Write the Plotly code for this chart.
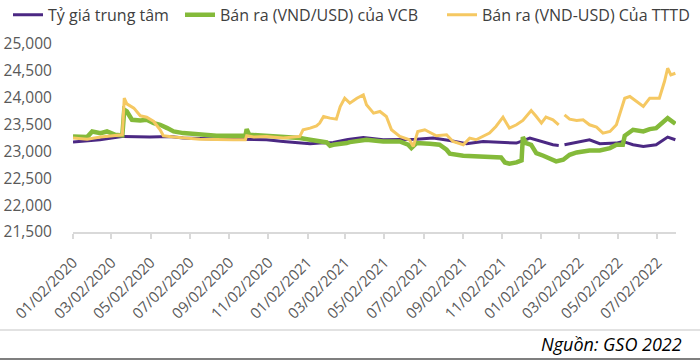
import plotly.graph_objects as go

# ---------------- data ----------------
central_dates = ["2020-01-02", "2020-02-13", "2020-03-21", "2020-05-01", "2020-06-01", "2020-06-22",
                 "2020-08-13", "2020-10-04", "2020-10-30", "2020-11-25", "2020-12-21", "2021-01-06",
                 "2021-01-21", "2021-02-11", "2021-03-04", "2021-03-09", "2021-03-30", "2021-04-30",
                 "2021-06-21", "2021-07-17", "2021-08-12", "2021-09-07", "2021-10-03", "2021-10-29",
                 "2021-11-24", "2021-12-15", "2022-01-04", "2022-01-20", "2022-01-29", "2022-02-03",
                 "2022-02-07", "2022-03-08", "2022-03-18", "2022-04-03", "2022-04-29", "2022-05-09",
                 "2022-05-25", "2022-06-10", "2022-06-30", "2022-07-18", "2022-07-30"]
central_vals = [23174, 23217, 23280, 23270, 23280, 23250,
                23230, 23230, 23217, 23186, 23167, 23143,
                23155, 23167, 23217, 23229, 23260, 23217,
                23229, 23248, 23205, 23143, 23186, 23167,
                23155, 23248, 23186, 23124, 23112, None,
                23124, 23186, 23217, 23143, 23155, 23186,
                23124, 23093, 23124, 23267, 23217]

vcb_dates = ["2020-01-02", "2020-01-24", "2020-02-01", "2020-02-14", "2020-02-24", "2020-03-08",
             "2020-03-19", "2020-03-22", "2020-03-26", "2020-04-03", "2020-04-16", "2020-04-26",
             "2020-05-07", "2020-05-17", "2020-05-28", "2020-06-07", "2020-06-22", "2020-07-18",
             "2020-08-13", "2020-09-27", "2020-09-29", "2020-10-03", "2020-10-30", "2020-11-25",
             "2020-12-21", "2021-01-06", "2021-01-21", "2021-02-01", "2021-02-06", "2021-02-11",
             "2021-03-04", "2021-03-09", "2021-04-04", "2021-04-30", "2021-05-26", "2021-06-08",
             "2021-06-13", "2021-06-21", "2021-07-12", "2021-07-27", "2021-08-07", "2021-08-12",
             "2021-09-02", "2021-09-22", "2021-10-13", "2021-10-31", "2021-11-06", "2021-11-13",
             "2021-11-24", "2021-12-02", "2021-12-04", "2021-12-09", "2021-12-17", "2021-12-25",
             "2022-01-05", "2022-01-15", "2022-01-25", "2022-02-05", "2022-02-15", "2022-02-26",
             "2022-03-18", "2022-04-03", "2022-04-19", "2022-04-29", "2022-05-09", "2022-05-12",
             "2022-05-25", "2022-06-10", "2022-06-20", "2022-06-30", "2022-07-10", "2022-07-18",
             "2022-07-30"]
vcb_vals = [23279, 23267, 23372, 23341, 23372, 23310,
            23298, 23775, 23744, 23589, 23577, 23589,
            23527, 23496, 23434, 23372, 23341, 23310,
            23291, 23291, 23415, 23310, 23291, 23279,
            23248, 23217, 23198, 23167, 23105, 23124,
            23155, 23173, 23217, 23186, 23186, 23124,
            23062, 23155, 23143, 23124, 23031, 22957,
            22920, 22907, 22895, 22889, 22795, 22771,
            22795, 22833, 23266, 23155, 23124, 22969,
            22920, 22876, 22814, 22845, 22938, 22981,
            23019, 23019, 23062, 23124, 23124, 23291,
            23403, 23372, 23415, 23434, 23527, 23620,
            23515]

tttd_dates = ["2020-01-02", "2020-01-24", "2020-02-14", "2020-03-05", "2020-03-19", "2020-03-22",
              "2020-03-26", "2020-04-06", "2020-04-16", "2020-04-26", "2020-05-07", "2020-05-17",
              "2020-05-22", "2020-06-07", "2020-06-22", "2020-07-18", "2020-09-08", "2020-09-27",
              "2020-09-29", "2020-10-10", "2020-10-30", "2020-11-25", "2020-12-21", "2020-12-26",
              "2021-01-06", "2021-01-16", "2021-01-21", "2021-01-27", "2021-02-06", "2021-02-16",
              "2021-02-22", "2021-03-01", "2021-03-09", "2021-03-20", "2021-03-30", "2021-04-04",
              "2021-04-15", "2021-04-25", "2021-05-05", "2021-05-13", "2021-05-26", "2021-06-10",
              "2021-06-16", "2021-06-23", "2021-07-04", "2021-07-22", "2021-08-07", "2021-08-17",
              "2021-09-02", "2021-09-12", "2021-09-22", "2021-10-13", "2021-10-23", "2021-11-03",
              "2021-11-13", "2021-11-24", "2021-12-04", "2021-12-17", "2021-12-25", "2022-01-02",
              "2022-01-09", "2022-01-20", "2022-01-29", "2022-02-03", "2022-02-07", "2022-02-15",
              "2022-02-26", "2022-03-08", "2022-03-18", "2022-03-29", "2022-04-08", "2022-04-19",
              "2022-04-29", "2022-05-04", "2022-05-12", "2022-05-20", "2022-05-30", "2022-06-10",
              "2022-06-20", "2022-07-05", "2022-07-13", "2022-07-18", "2022-07-23", "2022-07-30"]
tttd_vals = [23248, 23229, 23267, 23291, 23310, 23991,
             23886, 23806, 23663, 23638, 23558, 23403,
             23291, 23267, 23248, 23229, 23217, 23217,
             23291, 23267, 23279, 23248, 23279, 23403,
             23434, 23477, 23527, 23651, 23620, 23601,
             23836, 23991, 23899, 23991, 24053, 23868,
             23713, 23744, 23651, 23403, 23279, 23217,
             23093, 23372, 23403, 23291, 23310, 23186,
             23124, 23248, 23217, 23341, 23465, 23638,
             23434, 23496, 23577, 23762, 23651, 23527,
             23638, 23589, 23496, None, 23682, 23601,
             23577, 23589, 23496, 23453, 23341, 23372,
             23496, 23682, 23991, 24022, 23930, 23837,
             23991, 23991, 24301, 24549, 24425, 24456]

tick_dates = ["2020-01-02", "2020-03-02", "2020-05-02", "2020-07-02", "2020-09-02", "2020-11-02",
              "2021-01-02", "2021-03-02", "2021-05-02", "2021-07-02", "2021-09-02", "2021-11-02",
              "2022-01-02", "2022-03-02", "2022-05-02", "2022-07-02"]
tick_labels = ["01/02/2020", "03/02/2020", "05/02/2020", "07/02/2020", "09/02/2020", "11/02/2020",
               "01/02/2021", "03/02/2021", "05/02/2021", "07/02/2021", "09/02/2021", "11/02/2021",
               "01/02/2022", "03/02/2022", "05/02/2022", "07/02/2022"]
y_ticks = [21500, 22000, 22500, 23000, 23500, 24000, 24500, 25000]

series_names = ["Tỷ giá trung tâm", "Bán ra (VND/USD) của VCB", "Bán ra (VND-USD) Của TTTD"]
source_text = "Nguồn: GSO 2022"

# ---------------- figure ----------------
FONT = "Open Sans, Noto Sans, sans-serif"
fig = go.Figure()
fig.add_trace(go.Scatter(x=central_dates, y=central_vals, mode="lines", name=series_names[0],
                         line=dict(color="#4B2883", width=3), connectgaps=False, legend="legend"))
fig.add_trace(go.Scatter(x=vcb_dates, y=vcb_vals, mode="lines", name=series_names[1],
                         line=dict(color="#84BA3A", width=4.5), connectgaps=False, legend="legend2"))
fig.add_trace(go.Scatter(x=tttd_dates, y=tttd_vals, mode="lines", name=series_names[2],
                         line=dict(color="#F5C862", width=3), connectgaps=False, legend="legend3"))

PW = 603.0  # plot width in px
def lx(px):
    return (px - 73) / PW

leg_common = dict(orientation="h", xanchor="left", y=1.155, yanchor="middle",
                  font=dict(size=16, color="#404040"), bgcolor="rgba(0,0,0,0)",
                  itemwidth=30)

fig.update_layout(
    width=700, height=360,
    margin=dict(l=73, r=24, t=44, b=128, autoexpand=False),
    paper_bgcolor="white", plot_bgcolor="white",
    font=dict(family=FONT, color="#404040"),
    showlegend=True,
    legend=dict(x=lx(8), **leg_common),
    legend2=dict(x=lx(180), **leg_common),
    legend3=dict(x=lx(442), **leg_common),
    xaxis=dict(type="date", range=["2020-01-02", "2022-07-31"],
               tickmode="array", tickvals=tick_dates, ticktext=tick_labels,
               tickangle=-45, tickfont=dict(size=15, color="#595959"),
               ticklabelstandoff=9,
               showgrid=False, zeroline=False, automargin=False,
               showline=True, linecolor="#D9D9D9", linewidth=1.5,
               ticks="outside", ticklen=5, tickcolor="#D9D9D9", tickwidth=1.5),
    yaxis=dict(range=[21500, 25000], tickmode="array", tickvals=y_ticks,
               tickformat=",d", tickfont=dict(size=15.5, color="#595959"),
               showgrid=False, zeroline=False, showline=False, automargin=False,
               ticks="outside", ticklen=17, tickcolor="rgba(0,0,0,0)"),
    shapes=[
        dict(type="line", xref="paper", yref="paper", x0=-0.13, x1=1.05,
             y0=-(330 - 232) / 188, y1=-(330 - 232) / 188,
             line=dict(color="#D9D9D9", width=1.5)),
        dict(type="line", xref="paper", yref="paper", x0=-0.13, x1=1.05,
             y0=-(359 - 232) / 188, y1=-(359 - 232) / 188,
             line=dict(color="#7F7F7F", width=2)),
    ],
    annotations=[dict(text="<i>" + source_text + "</i>", xref="paper", yref="paper",
                      x=(684 - 73) / 603, xanchor="right", y=-(344 - 232) / 188, yanchor="middle",
                      showarrow=False, font=dict(size=18, color="#000000", family=FONT))],
)

fig.write_html("out.html", config={"displayModeBar": False},
               post_script="document.body.style.margin='0px';")
